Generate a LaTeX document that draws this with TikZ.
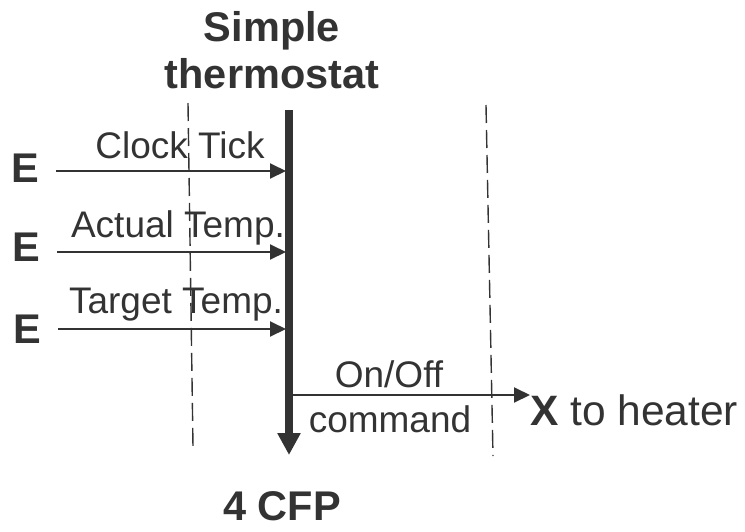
\documentclass[tikz,border=0pt]{standalone}
\usepackage{fontspec}
\setmainfont{Liberation Sans}
\usetikzlibrary{arrows.meta}
\definecolor{ink}{RGB}{51,51,51}
\tikzset{
  lbl/.style={inner sep=0pt, text=ink, anchor=base, font=\fontsize{37}{44}\selectfont},
  bigl/.style={inner sep=0pt, text=ink, anchor=base, font=\fontsize{41.5}{48}\selectfont\bfseries},
  sig/.style={draw=ink, line width=2pt, -{Triangle[length=16pt,width=15pt]}},
  guide/.style={draw=ink, line width=1.4pt, dash pattern=on 18pt off 7pt},
  lifeline/.style={draw=ink, line width=8pt, -{Triangle[length=22pt,width=22pt]}}
}
\begin{document}
\begin{tikzpicture}[x=1pt,y=-1pt]
\useasboundingbox (0,0) rectangle (745,531);
% guide lines
\coordinate (g1t) at (188,103);
\coordinate (g1b) at (193,447);
\coordinate (g2t) at (486,105);
\coordinate (g2b) at (493,456);
\draw[guide] (g1t) -- (g1b);
\draw[guide] (g2t) -- (g2b);
% title
\node[bigl] (t1) at (272,41) {Simple};
\node[bigl] (t2) at (272,88) {thermostat};
% lifeline
\coordinate (bt) at (289,110);
\coordinate (bb) at (289,455);
\draw[lifeline] (bt) -- (bb);
% inputs
\node[bigl, anchor=center] (e1) at (25,168) {E};
\node[bigl, anchor=center] (e2) at (26,247) {E};
\node[bigl, anchor=center] (e3) at (27,329) {E};
\coordinate (i1) at (286,171);
\coordinate (i2) at (286,252);
\coordinate (i3) at (286,329);
\draw[sig] (e1.east |- i1) ++(17,0) -- (i1);
\draw[sig] (e2.east |- i2) ++(17,0) -- (i2);
\draw[sig] (e3.east |- i3) ++(17,0) -- (i3);
\node[lbl] (l1) at (180,158) {Clock Tick};
\node[lbl] (l2) at (178,237) {Actual Temp.};
\node[lbl] (l3) at (176,313) {Target Temp.};
% output
\coordinate (o0) at (293,395);
\node[lbl, anchor=west, font=\fontsize{42.5}{50}\selectfont] (x) at (530,410) {\textbf{X} to heater};
\draw[sig] (o0) -- (x.west |- o0);
\node[lbl] (l4) at (389,387) {On/Off};
\node[lbl] (l5) at (390,432) {command};
% bottom
\node[bigl] (cfp) at (282,520) {4 CFP};
\end{tikzpicture}
\end{document}
